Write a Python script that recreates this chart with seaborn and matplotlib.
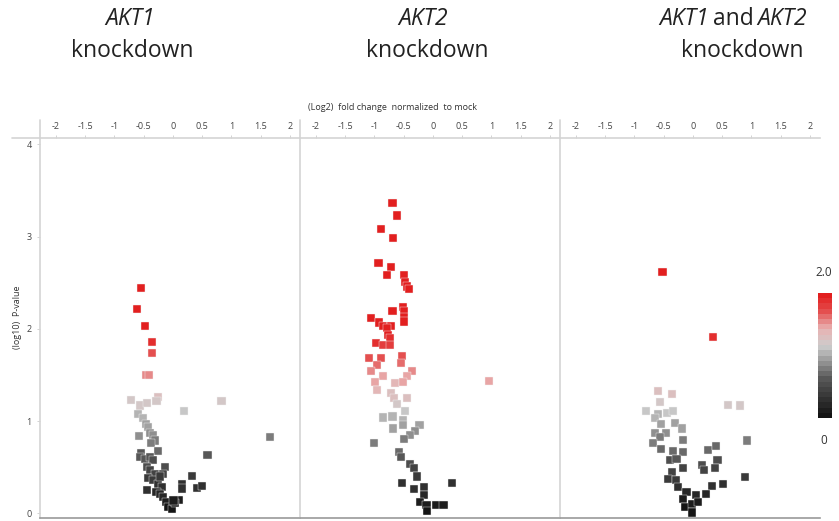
import numpy as np
import pandas as pd
import seaborn as sns
import matplotlib.pyplot as plt
from matplotlib.colors import LinearSegmentedColormap, Normalize
from matplotlib.cm import ScalarMappable
from matplotlib.lines import Line2D

# log2 fold change / -log10 p-value
akt1_fc = [-0.55, -0.62, -0.48, -0.36, -0.35, -0.46, -0.41, -0.72, -0.57, -0.44, -0.26, -0.28,
           0.19, 0.83, 1.65, 0.59, 0.33, 0.41, 0.49, 0.15, 0.16, 0.11, -0.44, -0.58,
           -0.60, -0.51, -0.46, -0.42, -0.39, -0.34, -0.31, -0.37, -0.25, -0.54, -0.57, -0.48,
           -0.39, -0.34, -0.45, -0.39, -0.31, -0.42, -0.34, -0.25, -0.19, -0.28, -0.22, -0.17,
           -0.11, -0.08, -0.02, -0.14, -0.17, -0.22, 0.03, 0.01]
akt1_p = [2.44, 2.22, 2.03, 1.86, 1.74, 1.50, 1.50, 1.23, 1.17, 1.20, 1.26, 1.22,
          1.11, 1.22, 0.83, 0.63, 0.41, 0.28, 0.30, 0.32, 0.27, 0.15, 0.25, 0.84,
          1.08, 1.03, 0.97, 0.94, 0.87, 0.85, 0.79, 0.76, 0.68, 0.65, 0.61, 0.59,
          0.61, 0.58, 0.50, 0.47, 0.43, 0.38, 0.36, 0.32, 0.29, 0.23, 0.21, 0.18,
          0.12, 0.07, 0.05, 0.50, 0.43, 0.40, 0.11, 0.14]

akt2_fc = [-0.69, -0.61, -0.88, -0.68, -0.93, -0.72, -0.78, -0.50, -0.48, -0.45, -0.41,
           -0.51, -0.50, -0.50, -0.50, -0.69, -1.06, -0.92, -0.86, -0.72, -0.79, -0.77,
           -0.74, -0.97, -0.85, -0.74, -1.09, -0.89, -0.96, -0.53, -0.55, -1.06, -0.86,
           -0.36, -0.44, -0.99, -0.96, -0.64, -0.51, -0.72, 0.95, -0.67, -0.61, -0.44,
           -0.47, -0.86, -0.69, -0.51, -0.51, -0.68, -0.23, -0.30, -0.39, -0.49, -1.01,
           -0.58, -0.55, -0.39, -0.33, -0.27, -0.53, 0.33, -0.33, -0.16, -0.15, -0.22,
           -0.11, -0.10, 0.06, 0.18]
akt2_p = [3.37, 3.23, 3.08, 2.99, 2.71, 2.67, 2.58, 2.58, 2.51, 2.46, 2.43,
          2.24, 2.19, 2.13, 2.08, 2.19, 2.12, 2.07, 2.03, 2.03, 2.01, 1.93,
          1.90, 1.85, 1.83, 1.83, 1.68, 1.68, 1.61, 1.71, 1.63, 1.54, 1.49,
          1.54, 1.49, 1.42, 1.34, 1.41, 1.42, 1.31, 1.44, 1.25, 1.19, 1.25,
          1.11, 1.04, 1.05, 1.01, 0.96, 0.92, 0.96, 0.89, 0.85, 0.81, 0.76,
          0.67, 0.61, 0.54, 0.49, 0.40, 0.33, 0.33, 0.26, 0.29, 0.20, 0.12,
          0.09, 0.03, 0.09, 0.09]

dko_fc = [-0.52, 0.35, -0.59, -0.35, -0.56, -0.80, -0.60, -0.44, -0.34, 0.60, 0.80,
          -0.65, -0.54, -0.31, -0.18, -0.65, -0.46, -0.56, -0.17, -0.68, -0.54, -0.34,
          -0.17, 0.93, 0.26, 0.39, -0.39, -0.28, 0.42, -0.17, 0.15, 0.19, 0.38,
          -0.35, -0.42, -0.29, -0.25, 0.89, 0.52, 0.32, 0.22, 0.06, -0.11, -0.17,
          -0.14, -0.02, -0.02, 0.09]
dko_p = [2.62, 1.91, 1.33, 1.29, 1.21, 1.11, 1.08, 1.09, 1.11, 1.18, 1.17,
         1.03, 0.97, 0.98, 0.92, 0.87, 0.87, 0.83, 0.80, 0.76, 0.70, 0.68,
         0.67, 0.79, 0.69, 0.73, 0.58, 0.59, 0.58, 0.49, 0.52, 0.47, 0.49,
         0.45, 0.37, 0.36, 0.29, 0.39, 0.32, 0.30, 0.21, 0.20, 0.23, 0.16,
         0.07, 0.10, 0.01, 0.12]

genes = ["AKT1", "AKT2"]
x_ticks = [-2, -1.5, -1, -0.5, 0, 0.5, 1, 1.5, 2]
y_ticks = [0, 1, 2, 3, 4]

df = pd.concat([
    pd.DataFrame({"fc": akt1_fc, "p": akt1_p, "panel": 0}),
    pd.DataFrame({"fc": akt2_fc, "p": akt2_p, "panel": 1}),
    pd.DataFrame({"fc": dko_fc, "p": dko_p, "panel": 2}),
])

sns.set_theme(style="white")
plt.rcParams["font.family"] = ["Open Sans", "DejaVu Sans"]

cmap = LinearSegmentedColormap.from_list(
    "pval", [(0.0, "#141414"), (0.3, "#555555"), (0.58, "#cdcdcd"),
             (0.72, "#e8b2b2"), (0.88, "#e44848"), (1.0, "#e21f1f")], N=24)
norm = Normalize(0, 2)

fig = plt.figure(figsize=(8.39, 5.21), dpi=100)
W, H = 839, 521
panel_w = 260
ax_bottom = 1 - 518 / H
ax_height = (518 - 138) / H

axes = []
for i in range(3):
    left = (40 + i * panel_w) / W
    ax = fig.add_axes([left, ax_bottom, panel_w / W, ax_height])
    sub = df[df["panel"] == i]
    sns.scatterplot(data=sub, x="fc", y="p", hue="p", palette=cmap, hue_norm=norm,
                    marker="s", s=34, edgecolor="#f4f4f4", linewidth=0.3,
                    legend=False, ax=ax)
    ax.set_xlim(-2.27, 2.17)
    ax.set_ylim(-0.05, 4.07)
    ax.set_xlabel("")
    ax.set_ylabel("")
    ax.xaxis.tick_top()
    ax.set_xticks(x_ticks)
    ax.set_xticklabels([f"{t:g}" for t in x_ticks])
    ax.tick_params(axis="x", top=True, bottom=False, length=2, width=0.6,
                   color="#cccccc", labelsize=6.5, labelcolor="#444444", pad=3)
    ax.set_yticks(y_ticks)
    if i == 0:
        ax.tick_params(axis="y", left=True, length=2, width=0.6, color="#cccccc",
                       labelsize=6.5, labelcolor="#444444", pad=4)
    else:
        ax.tick_params(axis="y", left=False, labelleft=False)
    for side in ["left", "top", "bottom"]:
        ax.spines[side].set_color("#d4d4d4")
        ax.spines[side].set_linewidth(1.2)
    ax.spines["bottom"].set_color("#9a9a9a")
    ax.spines["right"].set_visible(False)
    axes.append(ax)

# panel titles
t_kw = dict(ha="center", va="center", fontsize=16.5, color="#222222")
y1, y2 = 1 - 19 / H, 1 - 51 / H
fig.text(130 / W, y1, genes[0], style="italic", **t_kw)
fig.text(132 / W, y2, "knockdown", **t_kw)
fig.text(423 / W, y1, genes[1], style="italic", **t_kw)
fig.text(427 / W, y2, "knockdown", **t_kw)
fig.text(742 / W, y2, "knockdown", **t_kw)
mid = fig.text(733 / W, y1, "and", **t_kw)
fig.canvas.draw()
bb = mid.get_window_extent()
gap = 4
fig.text((bb.x0 - gap) / W, y1, genes[0], style="italic",
         **{**t_kw, "ha": "right"})
fig.text((bb.x1 + gap) / W, y1, genes[1], style="italic",
         **{**t_kw, "ha": "left"})

# frame lines around the top tick-label band
for xp in [40, 300, 560]:
    fig.add_artist(Line2D([xp / W, xp / W], [1 - 120 / H, 1 - 138 / H],
                          color="#d4d4d4", lw=1.2))
fig.add_artist(Line2D([12 / W, 40 / W], [1 - 138 / H, 1 - 138 / H], color="#d4d4d4", lw=1.2))

fig.text(393 / W, 1 - 107 / H, "(Log2)  fold change  normalized  to mock",
         ha="center", va="center", fontsize=6.5, color="#333333")
fig.text(18 / W, 1 - 317 / H, "(log10)  P-value", rotation=90,
         ha="center", va="center", fontsize=6.5, color="#333333")

# colour bar
cax = fig.add_axes([818 / W, 1 - 418 / H, 14 / W, 125 / H])
cb = fig.colorbar(ScalarMappable(norm=norm, cmap=cmap), cax=cax)
cb.set_ticks([])
cb.outline.set_visible(False)
fig.text(824 / W, 1 - 272 / H, "2.0", ha="center", va="center", fontsize=8.5, color="#333333")
fig.text(824 / W, 1 - 440 / H, "0", ha="center", va="center", fontsize=8.5, color="#333333")

fig.savefig("out.png", dpi=100)
